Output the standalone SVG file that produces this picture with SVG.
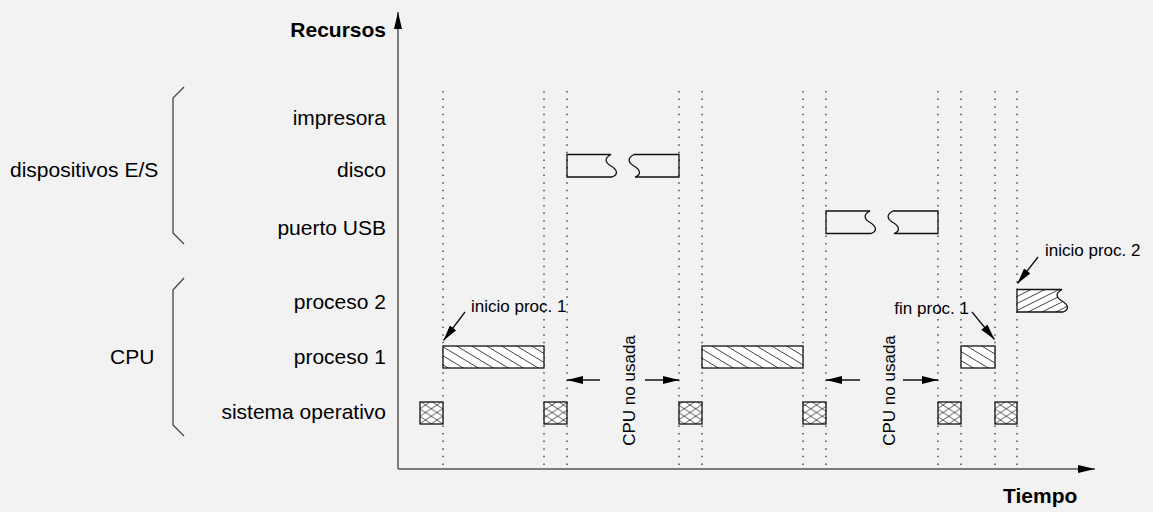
<svg xmlns="http://www.w3.org/2000/svg" width="1153" height="512" viewBox="0 0 1153 512">
<style>
.lbl{font-family:"Liberation Sans",Arial,sans-serif;font-size:21px;fill:#000}
.ttl{font-family:"Liberation Sans",Arial,sans-serif;font-size:21px;font-weight:bold;fill:#000}
.ann{font-family:"Liberation Sans",Arial,sans-serif;font-size:17px;fill:#000}
.dot{stroke:#333;stroke-width:1.3;stroke-dasharray:1.5 6.1;fill:none}
.axis{stroke:#555;stroke-width:1.5;fill:none}
.brk{stroke:#444;stroke-width:1.3;fill:none}
.box{stroke:#111;stroke-width:1.3}
.io{stroke:#111;stroke-width:1.3;fill:none}
.arr{stroke:#111;stroke-width:1.3;fill:none}
</style>
<defs>
<marker id="ah" markerUnits="userSpaceOnUse" markerWidth="16" markerHeight="8" viewBox="0 0 16 8" refX="16" refY="4" orient="auto"><path d="M0,0 L16,4 L0,8 Z" fill="#000"/></marker>
<marker id="ax" markerUnits="userSpaceOnUse" markerWidth="17" markerHeight="8" viewBox="0 0 17 8" refX="17" refY="4" orient="auto"><path d="M0,0 L17,4 L0,8 Z" fill="#000"/></marker>
<pattern id="hDown" patternUnits="userSpaceOnUse" width="15" height="9">
<rect width="15" height="9" fill="#fff"/>
<path d="M-3,-1.8 L18,10.8 M-18,-1.8 L3,10.8 M12,-1.8 L33,10.8" stroke="#444" stroke-width="1"/>
</pattern>
<pattern id="hUp" patternUnits="userSpaceOnUse" width="14" height="7">
<rect width="14" height="7" fill="#fff"/>
<path d="M-3,8.5 L17,-1.5 M-17,8.5 L3,-1.5 M11,8.5 L31,-1.5" stroke="#444" stroke-width="1"/>
</pattern>
<pattern id="hX" patternUnits="userSpaceOnUse" width="11.5" height="7.5">
<rect width="11.5" height="7.5" fill="#fff"/>
<path d="M-2,-1.3 L13.5,8.8 M-2,8.8 L13.5,-1.3" stroke="#444" stroke-width="0.9"/>
</pattern>
</defs>
<rect width="1153" height="512" fill="#f2f2f2"/>

<g id="grid">
<path class="dot" d="M443,91 V467 M544,91 V467 M567,91 V467 M679,91 V467 M702,91 V467 M803,91 V467 M826,91 V467 M938,91 V467 M961,91 V467 M995,91 V467 M1017,91 V467"/>
</g>

<g id="axes">
<line class="axis" x1="398" y1="469" x2="398" y2="12" marker-end="url(#ax)"/>
<line class="axis" x1="398" y1="469" x2="1095" y2="469" marker-end="url(#ax)"/>
<text class="ttl" x="386" y="37" text-anchor="end">Recursos</text>
<text class="ttl" x="1003" y="503">Tiempo</text>
</g>

<g id="labels">
<text class="lbl" x="386" y="125" text-anchor="end">impresora</text>
<text class="lbl" x="386" y="177" text-anchor="end">disco</text>
<text class="lbl" x="386" y="235" text-anchor="end">puerto USB</text>
<text class="lbl" x="386" y="309" text-anchor="end">proceso 2</text>
<text class="lbl" x="386" y="364" text-anchor="end">proceso 1</text>
<text class="lbl" x="386" y="419" text-anchor="end">sistema operativo</text>
</g>

<g id="group-io">
<path class="brk" d="M184,87 L173,98 V233 L184,244"/>
<text class="lbl" x="10" y="177">dispositivos E/S</text>
</g>
<g id="group-cpu">
<path class="brk" d="M184,278 L173,290 V425 L184,436"/>
<text class="lbl" x="110" y="364">CPU</text>
</g>

<g id="disco-uso">
<path class="io" d="M567,154.5 H611 C604,158 605,162.5 611,166 C617,169.5 619,174.5 612,177 H567 Z"/>
<path class="io" d="M634,154.5 C627,158 628,162.5 634,166 C640,169.5 642,174.5 635,177 H679 V154.5 Z"/>
</g>
<g id="usb-uso">
<path class="io" d="M826,211 H870 C863,214.5 864,219 870,222.5 C876,226 878,231 871,233.5 H826 Z"/>
<path class="io" d="M893,211 C886,214.5 887,219 893,222.5 C899,226 901,231 894,233.5 H938 V211 Z"/>
</g>

<g id="proceso1-uso">
<rect class="box" x="443" y="346" width="101" height="22" fill="url(#hDown)"/>
<rect class="box" x="702" y="346" width="101" height="22" fill="url(#hDown)"/>
<rect class="box" x="961" y="346" width="34" height="22" fill="url(#hDown)"/>
</g>
<g id="proceso2-uso">
<path class="box" fill="url(#hUp)" d="M1017,289.5 H1062 C1055,293 1056,297.5 1062,301 C1068,304.5 1070,309.5 1063,312 H1017 Z"/>
</g>
<g id="so-uso">
<rect class="box" x="420" y="402" width="23" height="22" fill="url(#hX)"/>
<rect class="box" x="544" y="402" width="23" height="22" fill="url(#hX)"/>
<rect class="box" x="679" y="402" width="23" height="22" fill="url(#hX)"/>
<rect class="box" x="803" y="402" width="23" height="22" fill="url(#hX)"/>
<rect class="box" x="938" y="402" width="23" height="22" fill="url(#hX)"/>
<rect class="box" x="995" y="402" width="22" height="22" fill="url(#hX)"/>
</g>

<g id="annotations">
<text class="ann" x="471" y="312">inicio proc. 1</text>
<text class="ann" x="1045" y="256">inicio proc. 2</text>
<text class="ann" x="969" y="314" text-anchor="end">fin proc. 1</text>
<text class="ann" transform="translate(635,390.5) rotate(-90)" text-anchor="middle">CPU no usada</text>
<text class="ann" transform="translate(895,390.5) rotate(-90)" text-anchor="middle">CPU no usada</text>
</g>

<g id="connectors">
<line class="arr" x1="465" y1="312" x2="443.5" y2="340.5" marker-end="url(#ah)"/>
<line class="arr" x1="1038" y1="257" x2="1017.5" y2="283.5" marker-end="url(#ah)"/>
<line class="arr" x1="972" y1="312" x2="994.5" y2="339.5" marker-end="url(#ah)"/>
<line class="arr" x1="600" y1="380" x2="567" y2="380" marker-end="url(#ah)"/>
<line class="arr" x1="645" y1="380" x2="679" y2="380" marker-end="url(#ah)"/>
<line class="arr" x1="860" y1="380" x2="826" y2="380" marker-end="url(#ah)"/>
<line class="arr" x1="903" y1="380" x2="938" y2="380" marker-end="url(#ah)"/>
</g>
</svg>
